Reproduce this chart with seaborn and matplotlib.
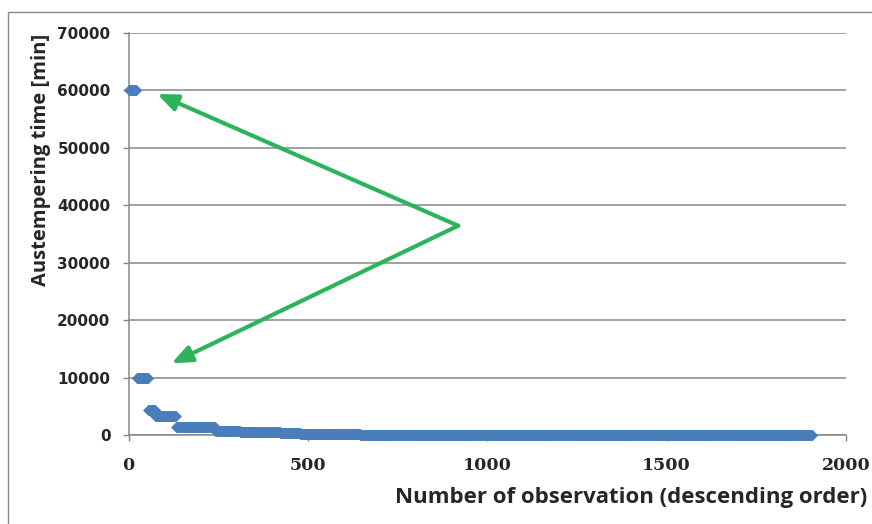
import numpy as np
import seaborn as sns
import matplotlib.pyplot as plt
from matplotlib.patches import Rectangle

# austempering time levels [min] and how many observations sit on each level
time_levels = [60000, 10000, 4320, 3300, 1440, 720, 480, 360, 180, 60, 30]
level_counts = [22, 32, 20, 58, 109, 69, 112, 56, 167, 555, 705]

x_ticks = [0, 500, 1000, 1500, 2000]
y_ticks = [0, 10000, 20000, 30000, 40000, 50000, 60000, 70000]

# green arrows: common start and the two tips (data coords)
arrow_start = (919, 36430)
arrow_tips = [(80, 59340), (120, 12500)]

observation = np.arange(1, sum(level_counts) + 1)
aust_time = np.repeat(time_levels, level_counts)

sns.set_style("white")
plt.rcParams['font.family'] = ['DejaVu Sans']

grey = '#878787'
blue = '#4A7EBB'
green = '#2DB35A'

fig = plt.figure(figsize=(8.72, 5.24), dpi=100)
ax = fig.add_axes([128.5 / 872, 1 - 435.2 / 524, 717.5 / 872, 402.5 / 524])

sns.scatterplot(x=observation, y=aust_time, marker='D', s=31, color=blue,
                linewidth=0, clip_on=False, zorder=3, ax=ax)

for tip in arrow_tips:
    ax.annotate('', xy=tip, xytext=arrow_start,
                arrowprops=dict(arrowstyle='-|>,head_length=0.6,head_width=0.25',
                                color=green, lw=3, shrinkA=0, shrinkB=0,
                                mutation_scale=20),
                zorder=4, annotation_clip=False)

ax.set_xlim(0, 2000)
ax.set_ylim(0, 70000)
ax.set_xticks(x_ticks)
ax.set_yticks(y_ticks)
ax.set_xticklabels([str(v) for v in x_ticks], fontfamily='DejaVu Serif',
                   fontweight='bold', fontsize=12.5)
ax.set_yticklabels([str(v) for v in y_ticks], fontfamily='DejaVu Sans',
                   fontweight='bold', fontsize=11)

ax.tick_params(axis='x', direction='out', length=4.5, width=1, color=grey, pad=11,
               bottom=True)
ax.tick_params(axis='y', direction='out', length=4, width=1, color=grey, pad=9,
               left=True)

ax.set_axisbelow(True)
ax.yaxis.grid(True, color=grey, lw=1.1)
ax.xaxis.grid(False)
for side in ['top', 'right']:
    ax.spines[side].set_visible(False)
for side in ['left', 'bottom']:
    ax.spines[side].set_color(grey)
    ax.spines[side].set_linewidth(1.1)

ax.set_xlabel('Number of observation (descending order)', fontfamily='Open Sans',
              fontweight='bold', fontsize=16, ha='left', va='baseline')
ax.xaxis.set_label_coords(0.3714, -0.169)
ax.set_ylabel('Austempering time [min]', fontfamily='Open Sans',
              fontweight='bold', fontsize=14.5)
ax.yaxis.set_label_coords(-0.108, 0.684)

# outer chart border (only top and left edges fall inside the picture)
fig.patches.append(Rectangle((8 / 872, -0.2), 1.2, 1.2 - 11.5 / 524,
                             transform=fig.transFigure, fill=False,
                             edgecolor=grey, lw=1))

fig.savefig('out.png', dpi=100)
